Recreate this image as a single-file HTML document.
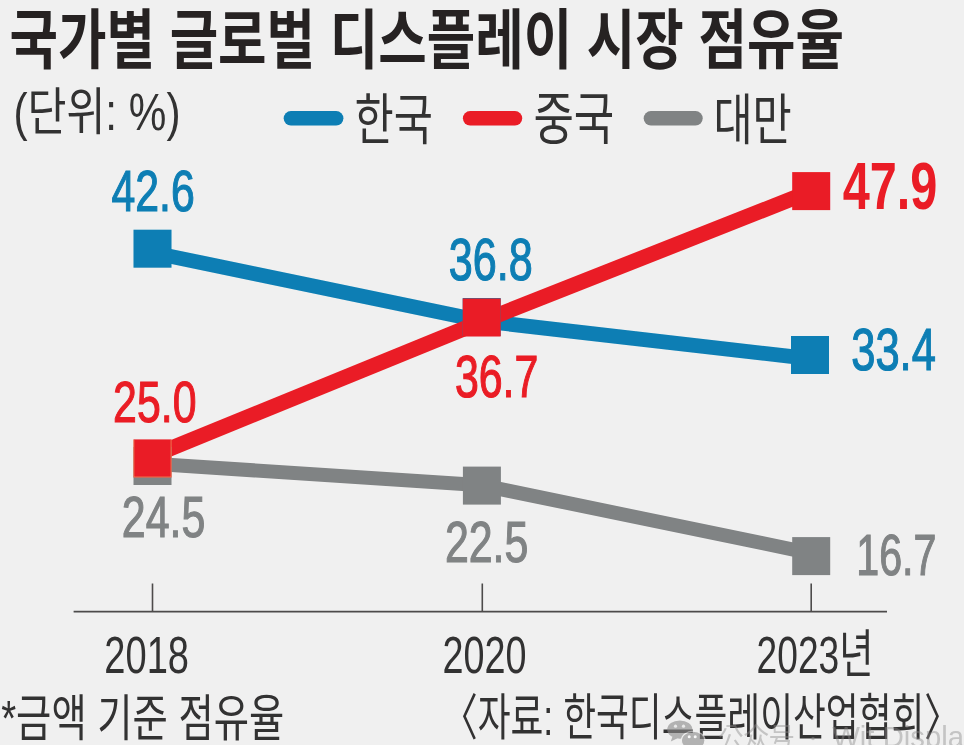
<!DOCTYPE html>
<html lang="ko"><head><meta charset="utf-8"><title>국가별 글로벌 디스플레이 시장 점유율</title>
<style>
html,body{margin:0;padding:0;background:#f0f0f0;}
body{width:964px;height:745px;overflow:hidden;position:relative;font-family:"Liberation Sans",sans-serif;}
svg{position:absolute;left:0;top:0;display:block}
</style></head><body>
<svg width="964" height="745" viewBox="0 0 964 745">
<defs><filter id="soft" x="-2%" y="-2%" width="104%" height="104%"><feGaussianBlur stdDeviation="0.65"/></filter></defs>
<rect width="964" height="745" fill="#f0f0f0"/>
<g filter="url(#soft)">
<g font-family="'Liberation Sans', 'Noto Sans CJK KR', sans-serif" stroke="none">
<text x="9.5" y="63.3" font-size="65" textLength="834.5" lengthAdjust="spacingAndGlyphs" font-weight="bold" fill="#262324">국가별 글로벌 디스플레이 시장 점유율</text>
<text x="13.5" y="129.6" font-size="51" textLength="167" lengthAdjust="spacingAndGlyphs" fill="#333132">(단위: %)</text>
</g>
<line x1="290.9" y1="118.3" x2="336.2" y2="118.3" stroke="#0a7eb4" stroke-width="14.4" stroke-linecap="round"/>
<line x1="470.09999999999997" y1="118.3" x2="515.0" y2="118.3" stroke="#ea1d25" stroke-width="14.4" stroke-linecap="round"/>
<line x1="650.9000000000001" y1="118.3" x2="695.5" y2="118.3" stroke="#808384" stroke-width="14.4" stroke-linecap="round"/>
<g font-family="'Liberation Sans', 'Noto Sans CJK KR', sans-serif" stroke="none" fill="#333132">
<text x="354.6" y="139.3" font-size="55" textLength="78.4" lengthAdjust="spacingAndGlyphs">한국</text>
<text x="533.4" y="139.2" font-size="57" textLength="80.9" lengthAdjust="spacingAndGlyphs">중국</text>
<text x="713.4" y="139.3" font-size="55" textLength="78.4" lengthAdjust="spacingAndGlyphs">대만</text>
</g>
<path d="M73.6 611.6H887M152.5 583.5V611.6M482.3 583.5V611.6M811.2 583.5V611.6" fill="none" stroke="#4d4b4c" stroke-width="1.6"/>
<polyline points="152.5,252.6 482,321 810,358.6" fill="none" stroke="#0a7eb4" stroke-width="14.7" stroke-linejoin="miter"/>
<polyline points="152.5,455.9 482,321.3 811.2,191.2" fill="none" stroke="#ea1d25" stroke-width="15.4" stroke-linejoin="miter"/>
<polyline points="152.5,463.7 482,485.3 811.2,553.3" fill="none" stroke="#808384" stroke-width="14.0" stroke-linejoin="miter"/>
<rect x="133.5" y="447.0" width="38" height="38" fill="#808384"/>
<rect x="462.9" y="466.6" width="38" height="38" fill="#808384"/>
<rect x="792.2" y="537.1" width="38" height="38" fill="#808384"/>
<rect x="133.5" y="229.7" width="38" height="38" fill="#0a7eb4"/>
<rect x="462.7" y="298.0" width="38" height="38" fill="#0a7eb4"/>
<rect x="791.0" y="336.0" width="38" height="38" fill="#0a7eb4"/>
<rect x="133.5" y="439.4" width="38" height="38" fill="#ea1d25"/>
<rect x="462.7" y="298.5" width="38" height="38" fill="#ea1d25"/>
<rect x="792.2" y="172.1" width="38" height="38" fill="#ea1d25"/>
<path d="M133.9 439.8V477H171.1V439.8" fill="none" stroke="#f39a63" stroke-width="0.8" stroke-opacity="0.85"/>
<g font-family="'Liberation Sans', sans-serif" stroke-width="1.2" stroke-linejoin="miter">
<text x="111.4" y="210.6" font-size="57" textLength="83.3" lengthAdjust="spacingAndGlyphs" fill="#0a7eb4" stroke="#0a7eb4">42.6</text>
<text x="448.7" y="280.4" font-size="59" textLength="84" lengthAdjust="spacingAndGlyphs" fill="#0a7eb4" stroke="#0a7eb4">36.8</text>
<text x="851.2" y="369.8" font-size="59" textLength="84.7" lengthAdjust="spacingAndGlyphs" fill="#0a7eb4" stroke="#0a7eb4">33.4</text>
<text x="113.1" y="421.8" font-size="58" textLength="83.4" lengthAdjust="spacingAndGlyphs" fill="#ea1d25" stroke="#ea1d25">25.0</text>
<text x="454.9" y="396.5" font-size="59" textLength="83.5" lengthAdjust="spacingAndGlyphs" fill="#ea1d25" stroke="#ea1d25">36.7</text>
<text x="842.7" y="209.2" font-size="67" textLength="94.7" lengthAdjust="spacingAndGlyphs" font-weight="bold" fill="#ea1d25" stroke="none">47.9</text>
<text x="121.8" y="537.3" font-size="58" textLength="83.5" lengthAdjust="spacingAndGlyphs" fill="#808384" stroke="#808384">24.5</text>
<text x="444.9" y="561.7" font-size="58" textLength="83.5" lengthAdjust="spacingAndGlyphs" fill="#808384" stroke="#808384">22.5</text>
<text x="856.2" y="574.7" font-size="58" textLength="80.3" lengthAdjust="spacingAndGlyphs" fill="#808384" stroke="#808384">16.7</text>
</g>
<g font-family="'Liberation Sans', 'Noto Sans CJK KR', sans-serif" stroke="none" fill="#333132">
<text x="104.3" y="672.9" font-size="52" textLength="84.7" lengthAdjust="spacingAndGlyphs">2018</text>
<text x="442.4" y="672.9" font-size="52" textLength="84.1" lengthAdjust="spacingAndGlyphs">2020</text>
<text x="756.6" y="672.6" font-size="52" textLength="116.9" lengthAdjust="spacingAndGlyphs">2023년</text>
<text x="1.2" y="736.4" font-size="50" textLength="283.1" lengthAdjust="spacingAndGlyphs">*금액 기준 점유율</text>
<text x="442" y="735.2" font-size="50" textLength="518" lengthAdjust="spacingAndGlyphs">〈자료: 한국디스플레이산업협회〉</text>
</g>
<g opacity="0.62">
<ellipse cx="679.8" cy="729.6" rx="12.6" ry="9.2" fill="#8c8c8c"/>
<path d="M672.5 736.5 L670.8 741.5 L677.5 738.2Z" fill="#8c8c8c"/>
<ellipse cx="693.2" cy="740.6" rx="11.8" ry="9.4" fill="#8c8c8c" stroke="#f0f0f0" stroke-width="1.2"/>
<circle cx="689.2" cy="736.8" r="1.5" fill="#fff"/><circle cx="695.2" cy="736.8" r="1.5" fill="#fff"/>
<circle cx="675.5" cy="726.2" r="1.6" fill="#e6e6e6"/><circle cx="683.5" cy="726.2" r="1.6" fill="#e6e6e6"/>
</g>
<g opacity="0.44">
<text x="718" y="748" font-family="'Liberation Sans', 'Noto Sans CJK SC', sans-serif" font-size="28" textLength="76.5" lengthAdjust="spacingAndGlyphs" fill="#8c8c8c">公众号</text>
<circle cx="813" cy="738.5" r="1.8" fill="#8c8c8c"/>
<text x="832.2" y="747" font-family="Liberation Sans, sans-serif" font-size="29.3" fill="#8c8c8c">Wit Display</text>
</g>
</g>
</svg>
</body></html>
